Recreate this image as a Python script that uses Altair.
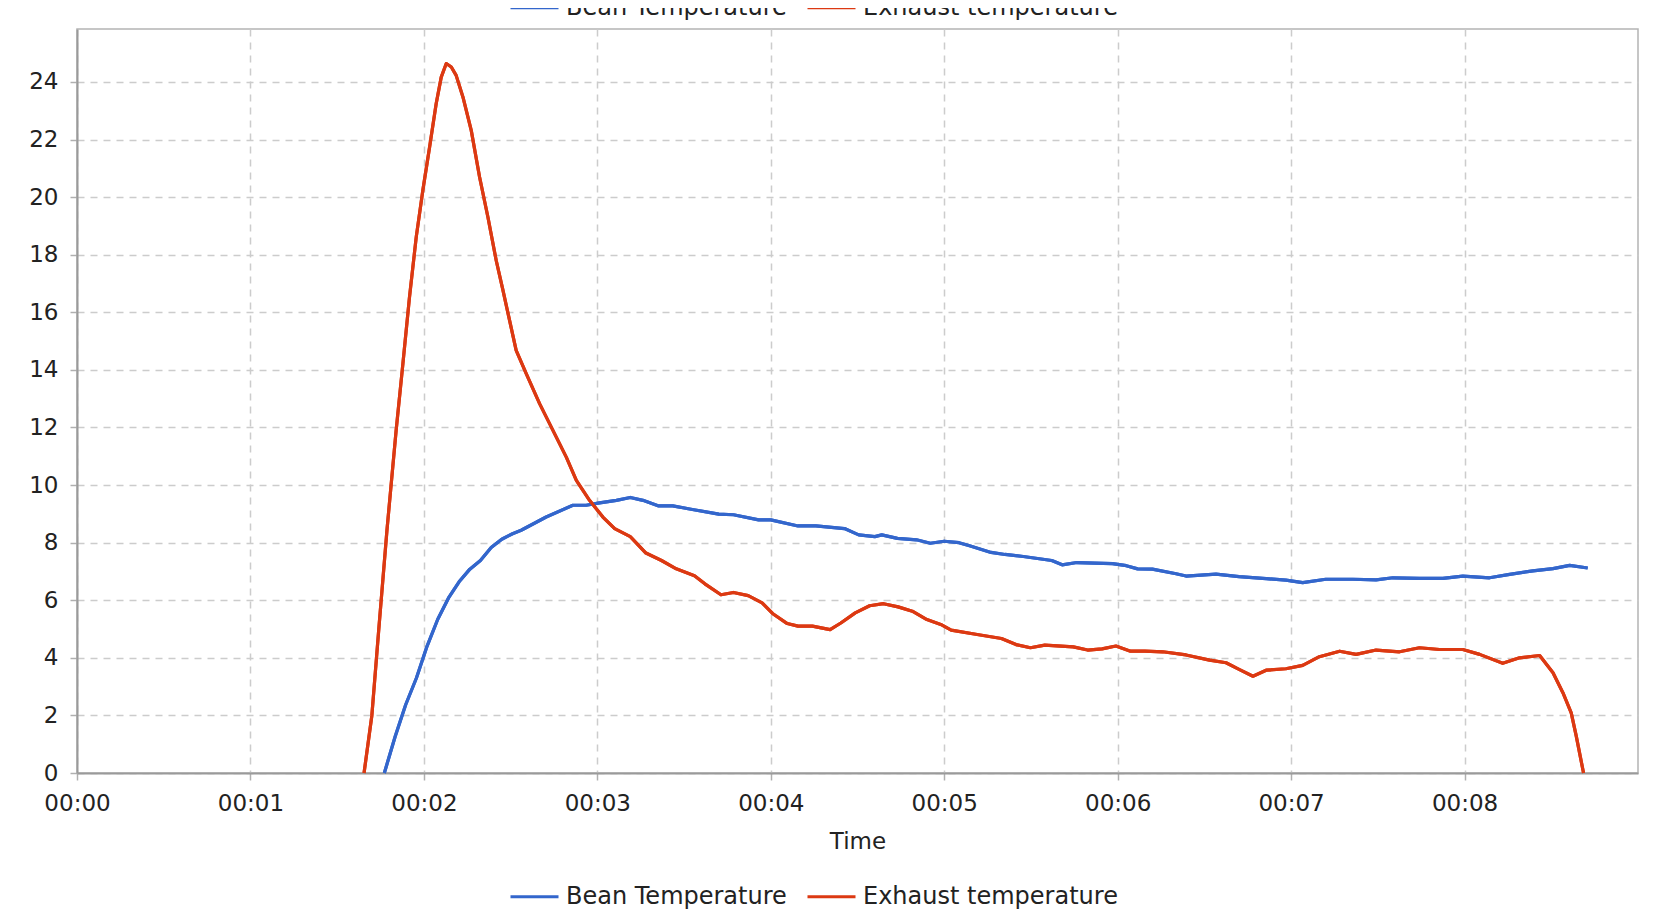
import altair as alt
import pandas as pd

SERIES = ["Bean Temperature", "Exhaust temperature"]
COLORS = ["#3366cc", "#dc3912"]
X_TICKS = list(range(0, 9))
Y_TICKS = list(range(0, 25, 2))

# time in minutes
bean_t = [1.772, 1.834, 1.895, 1.957, 2.018, 2.08, 2.142, 2.203, 2.265, 2.326,
          2.388, 2.449, 2.511, 2.561, 2.705, 2.859, 2.936, 3.013, 3.11, 3.19,
          3.263, 3.35, 3.435, 3.54, 3.70, 3.785, 3.93, 4.0, 4.157, 4.26,
          4.425, 4.507, 4.60, 4.64, 4.73, 4.84, 4.92, 5.0, 5.085, 5.146,
          5.27, 5.35, 5.456, 5.62, 5.68, 5.765, 5.97, 6.05, 6.115, 6.2,
          6.337, 6.394, 6.567, 6.70, 6.856, 6.97, 7.067, 7.2, 7.356, 7.49,
          7.587, 7.74, 7.875, 7.99, 8.144, 8.26, 8.394, 8.51, 8.606, 8.71]
bean_v = [0, 1.26, 2.37, 3.3, 4.4, 5.34, 6.08, 6.64, 7.08, 7.38,
          7.83, 8.12, 8.31, 8.43, 8.89, 9.30, 9.30, 9.38, 9.47, 9.57,
          9.47, 9.28, 9.28, 9.16, 8.99, 8.97, 8.79, 8.79, 8.58, 8.58,
          8.49, 8.27, 8.21, 8.27, 8.15, 8.10, 7.98, 8.05, 8.0, 7.89,
          7.66, 7.59, 7.52, 7.38, 7.23, 7.31, 7.27, 7.2, 7.09, 7.08,
          6.92, 6.84, 6.91, 6.82, 6.75, 6.70, 6.61, 6.73, 6.73, 6.71,
          6.78, 6.76, 6.76, 6.84, 6.78, 6.9, 7.02, 7.1, 7.21, 7.12]

exhaust_t = [1.655, 1.70, 1.74, 1.787, 1.84, 1.879, 1.917, 1.956, 1.994, 2.033,
             2.071, 2.10, 2.129, 2.158, 2.186, 2.225, 2.273, 2.321, 2.369, 2.417,
             2.456, 2.494, 2.532, 2.59, 2.667, 2.744, 2.821, 2.879, 2.955, 3.032,
             3.10, 3.19, 3.28, 3.37, 3.455, 3.56, 3.62, 3.713, 3.785, 3.87,
             3.95, 4.01, 4.095, 4.157, 4.24, 4.342, 4.404, 4.487, 4.57, 4.65,
             4.734, 4.816, 4.90, 4.98, 5.04, 5.19, 5.33, 5.414, 5.497, 5.58,
             5.744, 5.827, 5.91, 5.99, 6.074, 6.157, 6.26, 6.394, 6.53, 6.625,
             6.70, 6.78, 6.856, 6.97, 7.067, 7.163, 7.28, 7.375, 7.49, 7.625,
             7.74, 7.856, 7.99, 8.087, 8.22, 8.317, 8.433, 8.51, 8.567, 8.615,
             8.644, 8.686]
exhaust_v = [0, 2.0, 5.0, 8.43, 11.9, 14.22, 16.53, 18.62, 20.24, 21.74,
             23.25, 24.17, 24.64, 24.52, 24.23, 23.48, 22.32, 20.7, 19.31, 17.8,
             16.76, 15.72, 14.68, 13.87, 12.83, 11.9, 10.97, 10.16, 9.47, 8.89,
             8.49, 8.21, 7.64, 7.38, 7.09, 6.85, 6.57, 6.19, 6.27, 6.16,
             5.91, 5.54, 5.19, 5.1, 5.1, 4.98, 5.21, 5.56, 5.81, 5.88,
             5.77, 5.62, 5.33, 5.16, 4.96, 4.81, 4.67, 4.46, 4.35, 4.44,
             4.38, 4.27, 4.31, 4.41, 4.23, 4.23, 4.21, 4.1, 3.92, 3.83,
             3.6, 3.36, 3.57, 3.62, 3.74, 4.04, 4.23, 4.12, 4.27, 4.21,
             4.35, 4.29, 4.29, 4.12, 3.81, 4.0, 4.08, 3.48, 2.79, 2.09,
             1.28, 0.0]

rows = [{"t": t, "v": v, "series": SERIES[0]} for t, v in zip(bean_t, bean_v)]
rows += [{"t": t, "v": v, "series": SERIES[1]} for t, v in zip(exhaust_t, exhaust_v)]
df = pd.DataFrame(rows)

FONT = "DejaVu Sans"
TEXT = "#222222"


def make_legend(y):
    return alt.Legend(
        orient="none", legendX=432, legendY=y, direction="horizontal", title=None,
        symbolType="stroke", symbolSize=2304, symbolStrokeWidth=3,
        labelFont=FONT, labelFontSize=24, labelColor=TEXT, labelOffset=6,
        columnPadding=14, padding=0, labelLimit=400,
    )


x_axis = alt.Axis(
    values=X_TICKS, labelExpr="'00:0' + datum.value", title="Time",
    titleFont=FONT, titleFontSize=23, titleFontWeight="normal", titleColor=TEXT,
    titleBaseline="alphabetic", titleY=75,
    labelFont=FONT, labelFontSize=23, labelColor=TEXT,
    labelBaseline="alphabetic", labelPadding=30, tickSize=7,
    labelFlush=False, labelOverlap=False,
)
y_axis = alt.Axis(
    values=Y_TICKS, title=None,
    labelFont=FONT, labelFontSize=23, labelColor=TEXT,
    labelPadding=12, tickSize=7, labelOverlap=False,
)


def line(legend_y):
    return alt.Chart(df).mark_line(strokeWidth=3.2, strokeJoin="round").encode(
        x=alt.X("t:Q", scale=alt.Scale(domain=[0, 9], nice=False, zero=False), axis=x_axis),
        y=alt.Y("v:Q", scale=alt.Scale(domain=[0, 25.84], nice=False), axis=y_axis),
        color=alt.Color("series:N", scale=alt.Scale(domain=SERIES, range=COLORS),
                        legend=make_legend(legend_y)),
    )


chart = (
    alt.layer(line(842), line(-47))
    .resolve_scale(color="independent")
    .properties(
        width=1561, height=744,
        padding={"top": 21, "left": 69, "right": 20, "bottom": 141},
        autosize=alt.AutoSizeParams(type="none"),
        background="white",
    )
    .configure_axis(
        grid=True, gridColor="#cccccc", gridDash=[7, 6], gridWidth=1.5,
        domainColor="#9a9a9a", domainWidth=2,
        tickColor="#b0b0b0", tickWidth=1.5,
    )
    .configure_view(stroke="#b4b4b4", strokeWidth=1.5)
)

chart.save("out.html", embed_options={"renderer": "svg", "actions": False})
